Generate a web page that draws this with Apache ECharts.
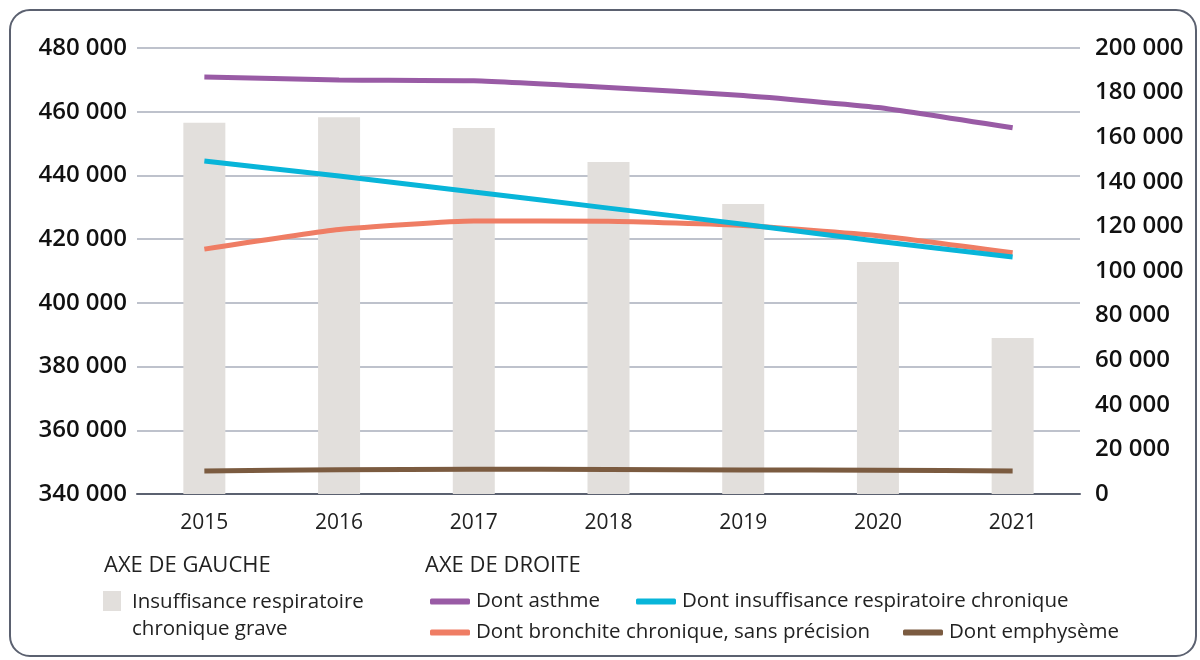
<!DOCTYPE html>
<html>
<head>
<meta charset="utf-8">
<script src="https://cdn.jsdelivr.net/npm/echarts@6/dist/echarts.min.js"></script>
<style>
  html, body { margin: 0; padding: 0; background: #fff; }
  #chart { width: 1200px; height: 660px; }
</style>
</head>
<body>
<div id="chart"></div>
<script>
// données
const years = ['2015', '2016', '2017', '2018', '2019', '2020', '2021'];
const insuffisanceGrave = [456500, 458300, 454900, 444200, 431000, 412800, 389000];
const asthme = [187000, 185700, 185300, 182300, 178700, 173300, 164200];
const insuffisanceChronique = [149300, 142600, 135400, 128200, 121000, 113300, 106300];
const bronchite = [109800, 118600, 122400, 122300, 120400, 115800, 108200];
const emphyseme = [10300, 10900, 11100, 11000, 10800, 10700, 10300];

const leftTicks = { min: 340000, max: 480000, interval: 20000 };
const rightTicks = { min: 0, max: 200000, interval: 20000 };

const font = 'Open Sans';
const fmt = v => String(v).replace(/\B(?=(\d{3})+(?!\d))/g, ' ');

const chart = echarts.init(document.getElementById('chart'));

const lineConfig = {
  type: 'line',
  yAxisIndex: 1,
  symbol: 'none',
  smooth: 0.15,
  z: 3
};

// une légende par élément pour garder la mise en page
const legendItem = (name, left, top, icon, w, h) => ({
  data: [name],
  left, top,
  icon,
  itemWidth: w,
  itemHeight: h,
  selectedMode: false,
  textStyle: { fontFamily: font, fontSize: 20.5, color: '#222', lineHeight: 27, padding: [0, 0, 0, 1] }
});

const axisLabelStyle = { fontFamily: font, fontSize: 24, fontWeight: 600, color: '#111' };
const headerStyle = { fontFamily: font, fontSize: 22, fill: '#222' };

chart.setOption({
  animation: false,
  backgroundColor: '#fff',
  color: ['#e2dfdc', '#995ba5', '#08b5d9', '#ef7d64', '#7b5b40'],
  graphic: [
    {
      type: 'rect',
      shape: { x: 10, y: 10, width: 1186, height: 646, r: 20 },
      style: { fill: 'none', stroke: '#5b6170', lineWidth: 2 },
      z: -1
    },
    { type: 'text', left: 104, top: 555, style: { text: 'AXE DE GAUCHE', ...headerStyle } },
    { type: 'text', left: 425, top: 555, style: { text: 'AXE DE DROITE', ...headerStyle } },
    // carré de la légende des barres, aligné sur la première ligne
    { type: 'rect', shape: { x: 103, y: 591, width: 18, height: 20 }, style: { fill: '#e2dfdc' } }
  ],
  legend: [
    {
      ...legendItem('Insuffisance respiratoire\nchronique grave', 103, 584, 'rect', 18, 18),
      itemStyle: { color: 'rgba(0,0,0,0)' }
    },
    legendItem('Dont asthme', 425, 583, 'roundRect', 40, 6),
    legendItem('Dont insuffisance respiratoire chronique', 631, 583, 'roundRect', 40, 6),
    legendItem('Dont bronchite chronique, sans précision', 425, 614, 'roundRect', 40, 6),
    legendItem('Dont emphysème', 898, 614, 'roundRect', 40, 6)
  ],
  grid: { left: 137, right: 120, top: 48, bottom: 166 },
  xAxis: {
    type: 'category',
    data: years,
    axisTick: { show: false },
    axisLine: { lineStyle: { color: '#5b6170', width: 2 } },
    axisLabel: { fontFamily: font, fontSize: 21, color: '#222', margin: 19 }
  },
  yAxis: [
    {
      type: 'value',
      ...leftTicks,
      axisLine: { show: false },
      axisTick: { show: false },
      splitLine: { lineStyle: { color: '#a9aebb', width: 1.5 } },
      axisLabel: { ...axisLabelStyle, margin: 10, formatter: fmt }
    },
    {
      type: 'value',
      ...rightTicks,
      position: 'right',
      axisLine: { show: false },
      axisTick: { show: false },
      splitLine: { show: false },
      axisLabel: { ...axisLabelStyle, margin: 15, formatter: fmt }
    }
  ],
  series: [
    {
      name: 'Insuffisance respiratoire\nchronique grave',
      type: 'bar',
      yAxisIndex: 0,
      barWidth: 42,
      data: insuffisanceGrave,
      z: 1
    },
    { ...lineConfig, name: 'Dont asthme', data: asthme, lineStyle: { width: 5 } },
    { ...lineConfig, name: 'Dont insuffisance respiratoire chronique', data: insuffisanceChronique, lineStyle: { width: 5 } },
    { ...lineConfig, name: 'Dont bronchite chronique, sans précision', data: bronchite, lineStyle: { width: 5 }, z: 2 },
    { ...lineConfig, name: 'Dont emphysème', data: emphyseme, lineStyle: { width: 5 } }
  ]
});
</script>
</body>
</html>
